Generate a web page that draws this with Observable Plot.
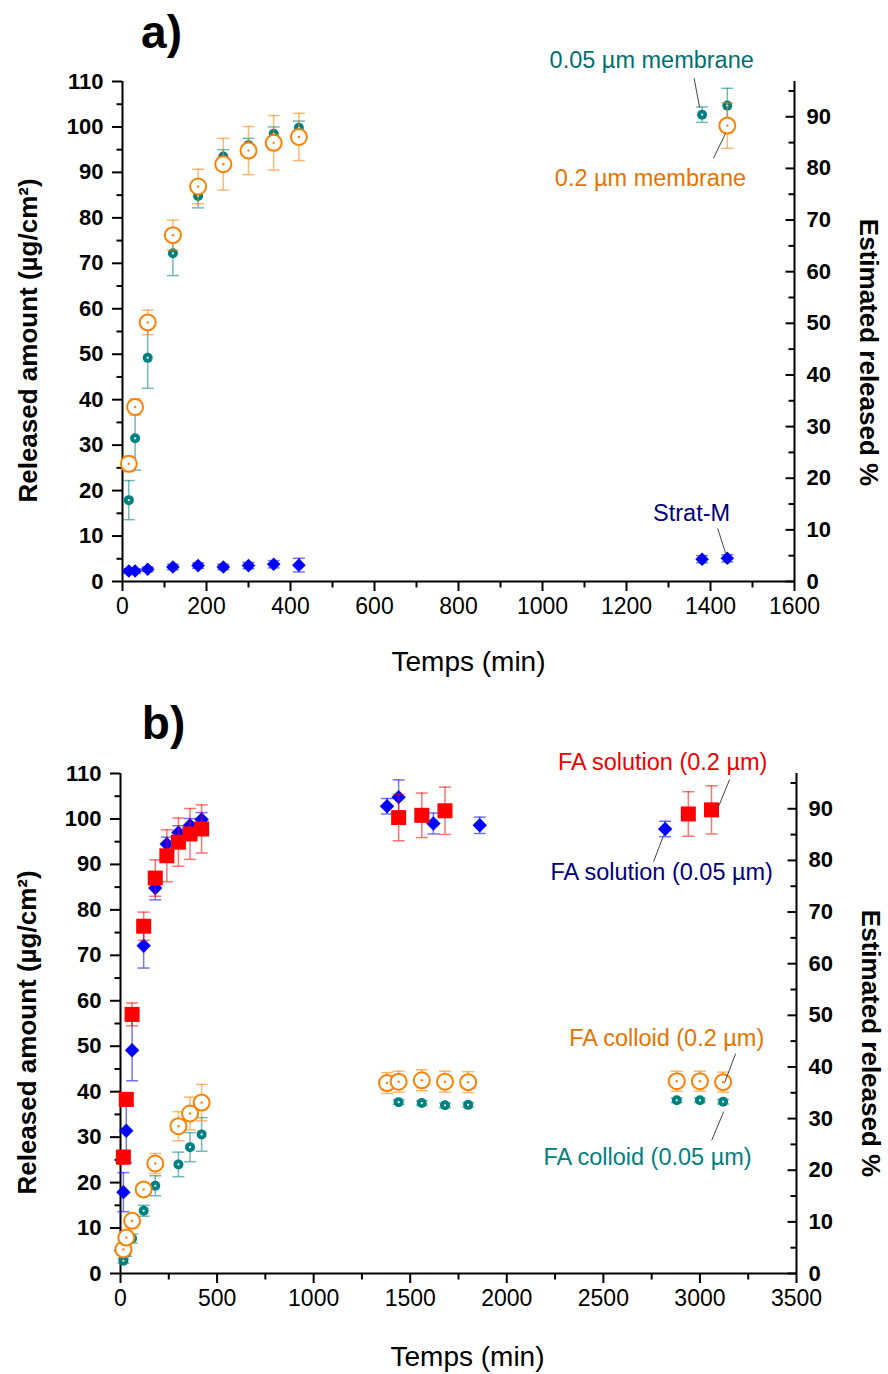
<!DOCTYPE html>
<html><head><meta charset="utf-8">
<script src="https://cdn.jsdelivr.net/npm/d3@7"></script>
<script src="https://cdn.jsdelivr.net/npm/@observablehq/plot@0.6"></script>
<style>
body{margin:0;background:#fff;}
#wrap{position:relative;width:888px;height:1374px;background:#fff;overflow:hidden;}
#wrap svg{position:absolute;left:0;overflow:visible;}
</style></head><body><div id="wrap"></div>
<script>
// ---------- Panel a data ----------
const timeA = [15, 30, 60, 120, 180, 240, 300, 360, 420];
const mem005Time = [...timeA, 1380, 1440];
const mem005Value = [17.9, 31.5, 49.2, 72.2, 84.8, 93.5, 96.0, 98.5, 99.8, 102.7, 104.7];
const mem005Err = [4.3, 7.0, 6.7, 4.9, 2.6, 1.5, 1.5, 1.5, 1.5, 1.7, 3.8];
const mem02Time = [...timeA, 1440];
const mem02Value = [25.9, 38.4, 57.0, 76.2, 86.9, 91.8, 94.8, 96.5, 97.8, 100.3];
const mem02Err = [1.7, 1.8, 2.7, 3.3, 3.8, 5.7, 5.3, 6.0, 5.2, 5.0];
const stratTime = [...timeA, 1380, 1440];
const stratValue = [2.3, 2.3, 2.7, 3.2, 3.5, 3.2, 3.5, 3.8, 3.6, 4.9, 5.1];
const stratErr = [0.5, 0.5, 0.5, 0.6, 0.6, 0.6, 0.7, 0.8, 1.5, 0.8, 0.8];

// ---------- Panel b data ----------
const solB02Time = [15, 30, 60, 120, 180, 240, 300, 360, 420, 1440, 1560, 1680, 2940, 3060];
const solB02Value = [25.6, 38.3, 57.0, 76.4, 87.0, 91.9, 94.9, 96.7, 97.8, 100.3, 100.8, 101.8, 101.1, 102.0];
const solB02Err = [1.5, 1.5, 2.5, 3.1, 4.0, 5.7, 5.3, 5.6, 5.3, 5.1, 4.9, 5.2, 4.9, 5.3];
const solB005Time = [15, 30, 60, 120, 180, 240, 300, 360, 420, 1380, 1440, 1620, 1860, 2820];
const solB005Value = [17.9, 31.4, 49.1, 72.1, 84.8, 94.5, 97.0, 98.6, 99.9, 102.8, 104.8, 99.0, 98.6, 97.8];
const solB005Err = [4.3, 7.0, 6.7, 4.9, 2.6, 1.5, 1.5, 1.5, 1.5, 1.7, 3.8, 2.3, 1.8, 1.7];
const colB02Time = [15, 30, 60, 120, 180, 300, 360, 420, 1380, 1440, 1560, 1680, 1800, 2880, 3000, 3120];
const colB02Value = [5.3, 7.9, 11.6, 18.5, 24.2, 32.4, 35.2, 37.6, 41.9, 42.2, 42.5, 42.2, 42.1, 42.3, 42.3, 42.1];
const colB02Err = [1.0, 1.2, 1.2, 1.0, 2.2, 3.2, 3.6, 4.0, 2.3, 2.3, 2.3, 2.3, 2.3, 2.2, 2.2, 2.2];
const colB005Time = [15, 30, 60, 120, 180, 300, 360, 420, 1440, 1560, 1680, 1800, 2880, 3000, 3120];
const colB005Value = [2.8, 4.6, 7.7, 13.8, 19.3, 24.0, 27.8, 30.6, 37.7, 37.5, 37.0, 37.1, 38.1, 38.1, 37.8];
const colB005Err = [0.5, 0.8, 1.0, 1.2, 2.2, 2.7, 3.2, 3.7, 0.5, 0.5, 0.5, 0.5, 0.5, 0.5, 0.5];

// ---------- Axis ticks ----------
const leftTicks = d3.range(0, 111, 10);
const leftMinor = d3.range(5, 110, 10);
const rightTicksPct = d3.range(0, 91, 10);
const rightMinorPct = d3.range(5, 96, 10);
const ugPerPercent = 1.136;
const xTicksA = d3.range(0, 1601, 200);
const xMinorA = d3.range(100, 1600, 200);
const xTicksB = d3.range(0, 3501, 500);
const xMinorB = d3.range(250, 3500, 500);

// ---------- Annotations (data coordinates) ----------
const annotA = [
  {label: "0.05 µm membrane", x: 1260, y: 114.6, color: "#006f6f", x1: 1361, y1: 110.7, x2: 1374, y2: 104.3},
  {label: "0.2 µm membrane", x: 1257, y: 88.7, color: "#e67300", x1: 1407, y1: 93.1, x2: 1436, y2: 98.6},
  {label: "Strat-M", x: 1355, y: 15.0, color: "#000080", x1: 1417, y1: 11.7, x2: 1436, y2: 6.2}
];
const annotB = [
  {label: "FA solution (0.2 µm)", x: 2807, y: 112.4, color: "#ee0000", x1: 3154, y1: 108.7, x2: 3092, y2: 102.3},
  {label: "FA solution (0.05 µm)", x: 2802, y: 88.2, color: "#000080", x1: 2812, y1: 96.4, x2: 2760, y2: 90.6},
  {label: "FA colloid (0.2 µm)", x: 2828, y: 51.7, color: "#e67300", x1: 3185, y1: 48.4, x2: 3128, y2: 42.0},
  {label: "FA colloid (0.05 µm)", x: 2729, y: 25.5, color: "#008080", x1: 3123, y1: 35.6, x2: 3061, y2: 29.3}
];

// ---------- helpers ----------
const sym = fn => ({draw(ctx, size) { const r = Math.sqrt(size / Math.PI); fn(ctx, r); }});
const capSym = sym((c, r) => { c.moveTo(-r, 0); c.lineTo(r, 0); });
const diamondSym = sym((c, r) => { c.moveTo(0, -r); c.lineTo(r, 0); c.lineTo(0, r); c.lineTo(-r, 0); c.closePath(); });
const squareSym = sym((c, r) => { c.rect(-r, -r, 2 * r, 2 * r); });
const tickLeftSym = sym((c, r) => { c.moveTo(-r, 0); c.lineTo(0, 0); });
const tickDownSym = sym((c, r) => { c.moveTo(0, 0); c.lineTo(0, r); });

const rows = (t, v, e) => t.map((d, i) => ({t: d, v: v[i], e: e[i]}));

function seriesMarks(data, kind, color, size) {
  const m = [];
  m.push(Plot.ruleX(data, {x: "t", y1: d => d.v - d.e, y2: d => d.v + d.e, stroke: color, strokeOpacity: 0.55, strokeWidth: 1.5}));
  m.push(Plot.dot(data, {x: "t", y: d => d.v + d.e, symbol: capSym, r: 6, stroke: color, strokeOpacity: 0.55, strokeWidth: 1.5, fill: "none"}));
  m.push(Plot.dot(data, {x: "t", y: d => d.v - d.e, symbol: capSym, r: 6, stroke: color, strokeOpacity: 0.55, strokeWidth: 1.5, fill: "none"}));
  if (kind === "open") {
    m.push(Plot.dot(data, {x: "t", y: "v", r: 8, stroke: color, strokeWidth: 2, fill: "white"}));
    m.push(Plot.dot(data, {x: "t", y: "v", r: 1.2, fill: color}));
  } else if (kind === "ring") {
    m.push(Plot.dot(data, {x: "t", y: "v", r: 5, fill: color}));
    m.push(Plot.dot(data, {x: "t", y: "v", r: 1.1, fill: "white"}));
  } else if (kind === "diamond") {
    m.push(Plot.dot(data, {x: "t", y: "v", symbol: diamondSym, r: size, fill: color, stroke: "none"}));
  } else if (kind === "square") {
    m.push(Plot.dot(data, {x: "t", y: "v", symbol: squareSym, r: size, fill: color, stroke: "none"}));
  }
  return m;
}

const FONT = "'Liberation Sans', Arial, sans-serif";

function axesMarks(xMax, xTicks, xMinor, titleDx, titleDy, xTitleDx, xTitleDy, rightDy) {
  return [
    Plot.ruleY([0], {stroke: "black", strokeWidth: 2}),
    Plot.ruleX([0], {stroke: "black", strokeWidth: 2}),
    Plot.ruleX([xMax], {stroke: "black", strokeWidth: 2}),
    Plot.axisY({anchor: "left", ticks: leftTicks, tickSize: 10, tickPadding: 9, strokeWidth: 2, fontSize: 22, fontWeight: "bold", label: null, tickFormat: d => String(d)}),
    Plot.dot(leftMinor, {y: d => d, frameAnchor: "left", symbol: tickLeftSym, r: 6, stroke: "black", strokeWidth: 2}),
    Plot.axisY({anchor: "right", ticks: rightTicksPct.map(p => p * ugPerPercent), tickSize: 0, tickPadding: 12, fontSize: 22, fontWeight: "bold", label: null, tickFormat: d => String(Math.round(d / ugPerPercent))}),
    Plot.dot(rightTicksPct.map(p => p * ugPerPercent), {y: d => d, frameAnchor: "right", symbol: tickLeftSym, r: 9, stroke: "black", strokeWidth: 2}),
    Plot.dot(rightMinorPct.map(p => p * ugPerPercent), {y: d => d, frameAnchor: "right", symbol: tickLeftSym, r: 6, stroke: "black", strokeWidth: 2}),
    Plot.axisX({anchor: "bottom", ticks: xTicks, tickSize: 10, tickPadding: 6, strokeWidth: 2, fontSize: 23, label: null, tickFormat: d => String(d)}),
    Plot.dot(xMinor, {x: d => d, frameAnchor: "bottom", symbol: tickDownSym, r: 6, stroke: "black", strokeWidth: 2}),
    Plot.text(["Released amount (µg/cm²)"], {frameAnchor: "left", rotate: -90, dx: titleDx, dy: titleDy, textAnchor: "middle", lineAnchor: "middle", fontSize: 26, fontWeight: "bold", fill: "black"}),
    Plot.text(["Estimated released %"], {frameAnchor: "right", rotate: 90, dx: 74, dy: rightDy, textAnchor: "middle", lineAnchor: "middle", fontSize: 26, fontWeight: "bold", fill: "black"}),
    Plot.text(["Temps (min)"], {frameAnchor: "bottom", dx: xTitleDx, dy: xTitleDy, lineAnchor: "middle", fontSize: 28, fill: "black"})
  ];
}

function annotMarks(ann) {
  return [
    Plot.link(ann, {x1: "x1", y1: "y1", x2: "x2", y2: "y2", stroke: "#444", strokeWidth: 1}),
    Plot.text(ann, {x: "x", y: "y", text: "label", fill: "color", fontSize: 23.5, textAnchor: "middle", lineAnchor: "middle"})
  ];
}

// ---------- Panel a ----------
const plotA = Plot.plot({
  width: 888, height: 700,
  marginTop: 81, marginBottom: 119, marginLeft: 122, marginRight: 94,
  x: {domain: [0, 1600]},
  y: {domain: [0, 110]},
  style: {fontFamily: FONT, background: "transparent", overflow: "visible"},
  marks: [
    ...axesMarks(1600, xTicksA, xMinorA, -94, 9, 10, 81, 21),
    ...seriesMarks(rows(mem005Time, mem005Value, mem005Err), "ring", "#008080"),
    ...seriesMarks(rows(mem02Time, mem02Value, mem02Err), "open", "#ff8000"),
    ...seriesMarks(rows(stratTime, stratValue, stratErr), "diamond", "#0000ff", 6.8),
    ...annotMarks(annotA),
    Plot.text(["a)"], {frameAnchor: "top-left", dx: 39, dy: -48, fontSize: 46, fontWeight: "bold", fill: "black", textAnchor: "middle", lineAnchor: "middle"})
  ]
});
plotA.style.top = "0px";

// ---------- Panel b ----------
const plotB = Plot.plot({
  width: 888, height: 684,
  marginTop: 83, marginBottom: 101, marginLeft: 120, marginRight: 92,
  x: {domain: [0, 3500]},
  y: {domain: [0, 110]},
  style: {fontFamily: FONT, background: "transparent", overflow: "visible"},
  marks: [
    ...axesMarks(3500, xTicksB, xMinorB, -93, 9, 9, 84, 20),
    ...seriesMarks(rows(colB005Time, colB005Value, colB005Err), "ring", "#008080"),
    ...seriesMarks(rows(colB02Time, colB02Value, colB02Err), "open", "#ff8000"),
    ...seriesMarks(rows(solB005Time, solB005Value, solB005Err), "diamond", "#0000ff", 7.2),
    ...seriesMarks(rows(solB02Time, solB02Value, solB02Err), "square", "#ff0000", 7.5),
    ...annotMarks(annotB),
    Plot.text(["b)"], {frameAnchor: "top-left", dx: 43, dy: -49, fontSize: 46, fontWeight: "bold", fill: "black", textAnchor: "middle", lineAnchor: "middle"})
  ]
});
plotB.style.top = "690px";

const wrap = document.getElementById("wrap");
wrap.appendChild(plotA);
wrap.appendChild(plotB);
</script></body></html>
